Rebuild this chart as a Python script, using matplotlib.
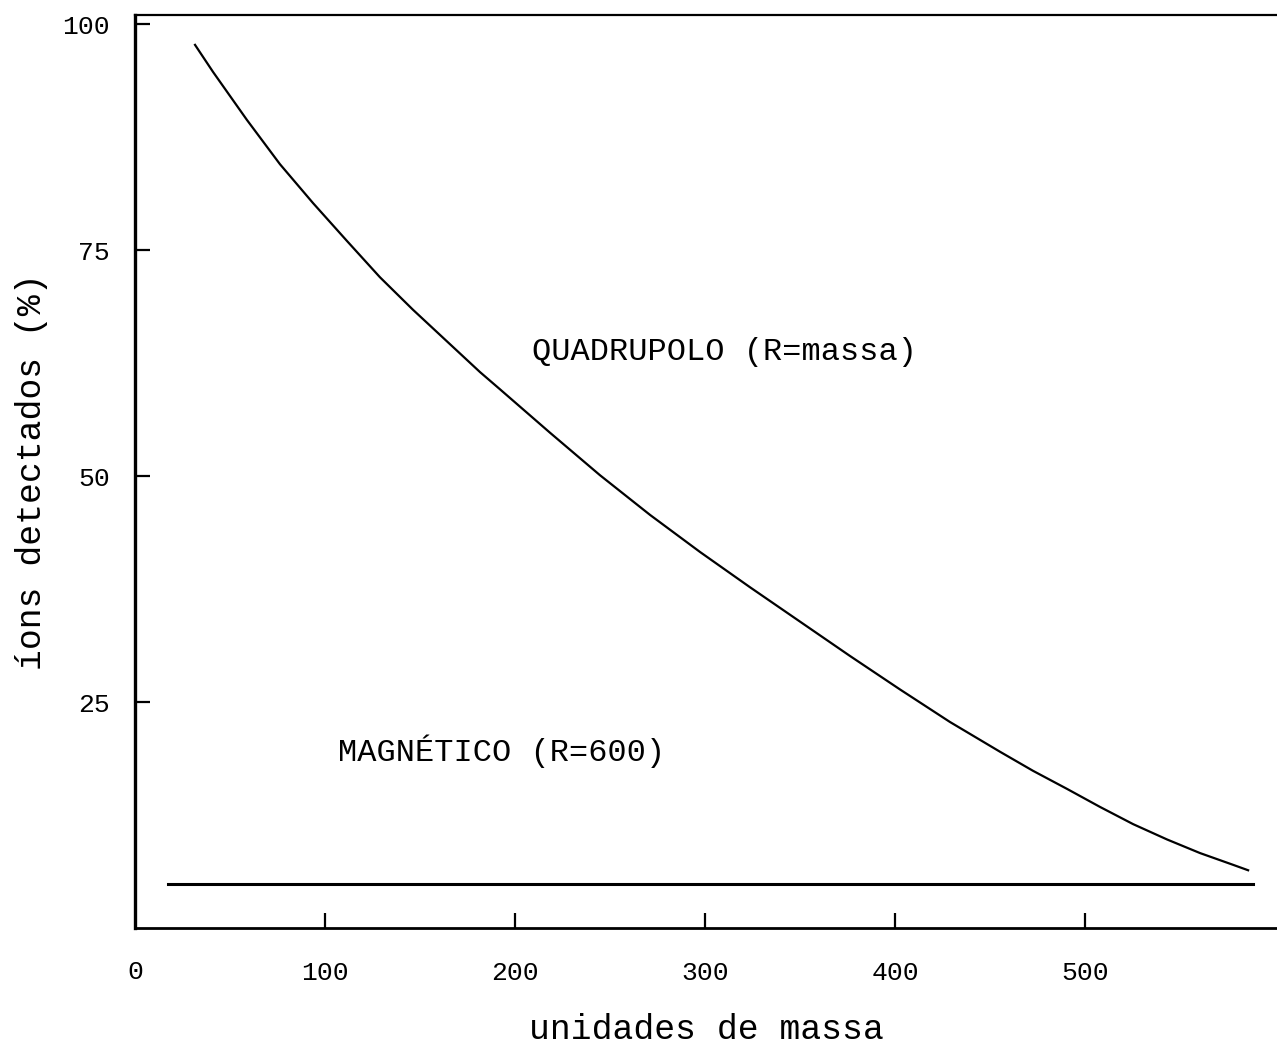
import numpy as np
import matplotlib
matplotlib.use('Agg')
import matplotlib.pyplot as plt

plt.rcParams['font.family'] = ['Liberation Mono', 'DejaVu Sans Mono']

# quadrupole transmission curve
quad_mass = [31.6, 41.1, 58.9, 76.3, 93.7, 111.6, 128.9, 146.3, 164.2, 181.6,
             192.1, 218.4, 244.7, 271.1, 297.4, 323.7, 350.0, 376.3, 402.6, 428.9,
             455.3, 472.6, 490.5, 507.9, 525.3, 543.2, 560.5, 577.9, 585.8]
quad_ions = [97.7, 94.7, 89.4, 84.5, 80.2, 76.0, 72.0, 68.4, 64.9, 61.5,
             59.6, 54.8, 50.1, 45.7, 41.6, 37.7, 33.9, 30.1, 26.4, 22.8,
             19.5, 17.4, 15.4, 13.4, 11.5, 9.8, 8.3, 7.0, 6.4]

# magnetic sector: flat line
mag_mass = [17.4, 588.4]
mag_ions = [4.85, 4.85]

xticks = [100, 200, 300, 400, 500]
xlabels = ['100', '200', '300', '400', '500']
yticks = [25, 50, 75, 100]
ylabels = ['25', '50', '75', '100']

fig = plt.figure(figsize=(12.77, 10.44), dpi=100)
ax = fig.add_axes([0.1057, 0.111, 0.8943, 0.8746])

ax.plot(quad_mass, quad_ions, color='black', lw=1.6)
ax.plot(mag_mass, mag_ions, color='black', lw=2.2)

ax.text(209, 63.7, 'QUADRUPOLO (R=massa)', fontsize=23, va='center', ha='left')
ax.text(107, 19.6, 'MAGNÉTICO (R=600)', fontsize=23, va='center', ha='left')

ax.set_xlim(0, 601)
ax.set_ylim(0, 101)

ax.set_xticks(xticks)
ax.set_xticklabels(xlabels)
ax.set_yticks(yticks)
ax.set_yticklabels(ylabels)
ax.tick_params(axis='both', direction='in', length=11, width=1.6, labelsize=19)
ax.tick_params(axis='x', pad=24)
ax.tick_params(axis='y', pad=18)

# the '0' at the origin (no tick mark)
ax.text(0, -4.8, '0', fontsize=19, ha='center', va='center', clip_on=False)

ax.set_xlabel('unidades de massa', fontsize=25, labelpad=20)
ax.set_ylabel('íons detectados (%)', fontsize=25, labelpad=10)

ax.spines['right'].set_visible(False)
ax.spines['left'].set_linewidth(2.4)
ax.spines['bottom'].set_linewidth(2.0)
ax.spines['top'].set_linewidth(1.6)

fig.savefig('out.png', dpi=100)
